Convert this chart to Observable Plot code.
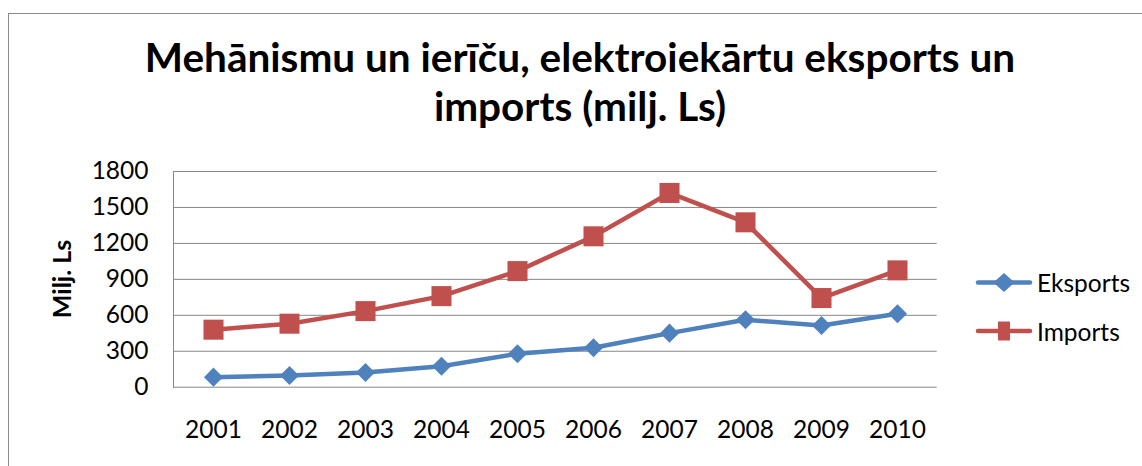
<!DOCTYPE html>
<html><head><meta charset="utf-8">
<script src="https://cdn.jsdelivr.net/npm/d3@7"></script>
<script src="https://cdn.jsdelivr.net/npm/@observablehq/plot@0.6"></script>
<style>
body{margin:0;background:#fff;}
#wrap{position:relative;width:1142px;height:466px;overflow:hidden;background:#fff;font-family:Lato,sans-serif;color:#000;}
#border{position:absolute;left:8px;top:13px;width:1200px;height:600px;border:1.5px solid #8c8c8c;}
#title{position:absolute;left:0;width:1160px;top:33px;text-align:center;font-weight:bold;font-size:40.5px;line-height:48.5px;}
#chart{position:absolute;left:0;top:150px;}
#ylab{position:absolute;left:61px;top:279px;transform:translate(-50%,-50%) rotate(-90deg);font-weight:bold;font-size:25px;white-space:nowrap;line-height:1;}
.legtxt{position:absolute;left:1037px;font-size:24.5px;line-height:29px;white-space:nowrap;}
#legsvg{position:absolute;left:0;top:0;}
</style></head>
<body>
<div id="wrap">
  <div id="border"></div>
  <div id="title">Mehānismu un ierīču, elektroiekārtu eksports un<br>imports (milj. Ls)</div>
  <div id="ylab">Milj. Ls</div>
  <div id="chart"></div>
  <svg id="legsvg" width="1142" height="466"></svg>
  <div class="legtxt" id="leg0" style="top:267.5px"></div>
  <div class="legtxt" id="leg1" style="top:316.5px"></div>
</div>
<script>
const years = ["2001","2002","2003","2004","2005","2006","2007","2008","2009","2010"];
const eksports = [84, 98, 123, 175, 279, 329, 451, 563, 515, 613];
const imports = [480, 530, 635, 760, 969, 1259, 1621, 1376, 744, 975];
const yTicks = [0, 300, 600, 900, 1200, 1500, 1800];
const seriesNames = ["Eksports", "Imports"];
const seriesColors = ["#4F81BD", "#C0504D"];

const eData = years.map((y, i) => ({year: y, value: eksports[i]}));
const iData = years.map((y, i) => ({year: y, value: imports[i]}));

const plot = Plot.plot({
  width: 1142, height: 316,
  marginTop: 21, marginBottom: 79.3, marginLeft: 173, marginRight: 205.3,
  style: {fontFamily: "Lato, sans-serif", fontSize: "24.5px", color: "#000", background: "transparent", overflow: "visible"},
  x: {type: "point", domain: years, padding: 0.5, label: null},
  y: {domain: [0, 1800], label: null},
  marks: [
    Plot.gridY(yTicks, {stroke: "#868686", strokeOpacity: 1, strokeWidth: 1}),
    Plot.frame({anchor: "left", stroke: "#868686", strokeWidth: 1}),
    Plot.axisY(yTicks, {tickSize: 0, tickPadding: 25, fontSize: 24.5, tickFormat: d => String(d)}),
    Plot.axisX({tickSize: 0, tickPadding: 33, fontSize: 24.5}),
    Plot.line(eData, {x: "year", y: "value", stroke: seriesColors[0], strokeWidth: 4.5}),
    Plot.dot(eData, {x: "year", y: "value", symbol: "diamond2", r: 8.6, fill: seriesColors[0]}),
    Plot.line(iData, {x: "year", y: "value", stroke: seriesColors[1], strokeWidth: 4.5}),
    Plot.dot(iData, {x: "year", y: "value", symbol: "square", r: 11.3, fill: seriesColors[1]})
  ]
});
document.getElementById("chart").appendChild(plot);

// legend
document.getElementById("leg0").textContent = seriesNames[0];
document.getElementById("leg1").textContent = seriesNames[1];
const leg = d3.select("#legsvg");
const legY = [282.5, 331];
legY.forEach((y, i) => {
  leg.append("line").attr("x1", 978).attr("x2", 1030).attr("y1", y).attr("y2", y)
    .attr("stroke", seriesColors[i]).attr("stroke-width", 4.5).attr("stroke-linecap", "round");
});
leg.append("path").attr("d", `M1004,${legY[0]-9.5}L1014.5,${legY[0]}L1004,${legY[0]+9.5}L993.5,${legY[0]}Z`).attr("fill", seriesColors[0]);
leg.append("rect").attr("x", 998).attr("y", legY[1]-9.5).attr("width", 12).attr("height", 19).attr("fill", seriesColors[1]);
</script>
</body></html>
